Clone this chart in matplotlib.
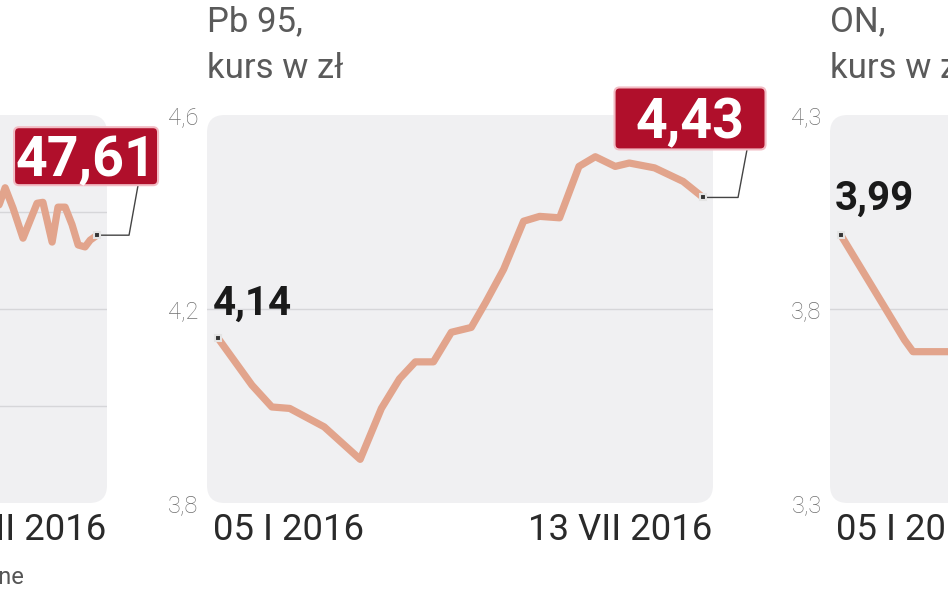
import matplotlib.pyplot as plt
import matplotlib.transforms as mtransforms
from matplotlib.patches import FancyBboxPatch

W, H, DPI = 948, 593, 100

# dni liczone od 05 I 2016 (13 VII 2016 = 190)
oil_days = [150.5, 152.0, 154.0, 157.1, 161.0, 166.5, 168.8, 172.4, 174.7,
            177.5, 180.2, 182.6, 185.3, 187.3, 190]
oil_vals = [50.0, 51.0, 52.5, 50.4, 47.3, 50.9, 51.0, 46.9, 50.5,
            50.5, 48.7, 46.6, 46.4, 47.1, 47.61]

pb95_days = [0, 13.3, 21.1, 28.1, 41.6, 55.7, 64.0, 71.1, 77.3, 84.4, 91.4,
             99.2, 104.9, 111.9, 119.7, 126.0, 133.8, 141.4, 147.8, 155.6,
             161.1, 171.0, 182.2, 190]
pb95_vals = [4.14, 4.043, 3.998, 3.995, 3.957, 3.89, 3.995, 4.056, 4.091,
             4.091, 4.152, 4.162, 4.214, 4.282, 4.381, 4.391, 4.388, 4.494,
             4.514, 4.494, 4.501, 4.491, 4.463, 4.43]

on_days = [0, 24.9, 28.2, 50]
on_vals = [3.99, 3.72, 3.69, 3.69]

date_start = "05 I 2016"
date_end = "13 VII 2016"

LINE = "#e2a48c"
RED = "#b00f2b"
BOX = "#f0f0f2"

plt.rcParams['font.family'] = ['Roboto', 'DejaVu Sans']

fig = plt.figure(figsize=(W / DPI, H / DPI), dpi=DPI)


def px(ref, x, y):
    # przesunięcie w pikselach od punktu (x, y) w układzie ref
    return (mtransforms.Affine2D().scale(1 / DPI) + fig.dpi_scale_trans
            + mtransforms.ScaledTranslation(x, y, ref))


def panel(left, ylim, yticks, grid):
    ax = fig.add_axes([left / W, (H - 503) / H, 506 / W, 388 / H])
    ax.set_xlim(-4.3, 193.9)
    ax.set_ylim(ylim)
    ax.patch.set_visible(False)
    for s in ax.spines.values():
        s.set_visible(False)
    ax.set_xticks([])
    ax.set_yticks(yticks, [f"{t:g}".replace('.', ',') for t in yticks])
    ax.tick_params(axis='y', length=0, pad=6, labelsize=17, labelcolor='#707070')
    for lab in ax.get_yticklabels():
        lab.set_fontweight('light')
    ax.add_patch(FancyBboxPatch((0, 0), 1, 1,
                                boxstyle='round,pad=0,rounding_size=0.035',
                                mutation_aspect=506 / 388, transform=ax.transAxes,
                                fc=BOX, ec='none', zorder=0))
    for g in grid:
        ax.axhline(g, color='#d6d6d9', lw=1, zorder=1)
    # daty pod wykresem
    ax.text(6, -37, date_start, transform=px(ax.transAxes, 0, 0), fontsize=26.3,
            color='#2a2a2a', va='baseline', ha='left')
    ax.text(-1, -37, date_end, transform=px(ax.transAxes, 1, 0), fontsize=26.3,
            color='#2a2a2a', va='baseline', ha='right')
    return ax


def title(ax, l1, l2):
    t = px(ax.transAxes, 0, 1)
    ax.text(0, 84, l1, transform=t, fontsize=25, color='#5a5a5a', va='baseline')
    ax.text(0, 37, l2, transform=t, fontsize=25, color='#5a5a5a', va='baseline')


def line(ax, x, y):
    ax.plot(x, y, color=LINE, lw=5.2, solid_capstyle='round',
            solid_joinstyle='round', zorder=2)


def marker(ax, x, y):
    ax.plot(x, y, 's', ms=5, mfc='#333333', mec='#e4e4e4', mew=1.5, zorder=4,
            clip_on=False)


def red_label(ax, x, y, text, w, h, dx, dy, lx):
    t = px(ax.transData, x, y)
    ax.plot([4, lx, lx + 9], [0, 0, dy - h / 2], transform=t, color='#444444',
            lw=1, zorder=3, clip_on=False)
    ax.add_patch(FancyBboxPatch((dx - w / 2, dy - h / 2), w, h,
                                boxstyle='round,pad=0,rounding_size=5', transform=t,
                                fc=RED, ec='#f2bcc4', lw=1.5, zorder=5, clip_on=False))
    ax.text(dx, dy - 20, text, transform=t, ha='center', va='baseline',
            fontsize=40, fontweight='bold', color='white', zorder=6)


def black_label(ax, x, y, text, dx, dy):
    ax.text(dx, dy - 15, text, transform=px(ax.transData, x, y), ha='left',
            va='baseline', fontsize=29, fontweight='bold', color='#1a1a1a', zorder=6)


# ropa - lewy panel, ucięty
ax1 = panel(-399, (20, 60), [20, 40, 60], [30, 40, 50])
line(ax1, oil_days, oil_vals)
marker(ax1, oil_days[-1], oil_vals[-1])
red_label(ax1, oil_days[-1], oil_vals[-1], "47,61", 144, 58, -11, 79, 32)

# benzyna Pb 95
ax2 = panel(207, (3.8, 4.6), [3.8, 4.2, 4.6], [4.2])
title(ax2, "Pb 95,", "kurs w zł")
line(ax2, pb95_days, pb95_vals)
marker(ax2, pb95_days[0], pb95_vals[0])
marker(ax2, pb95_days[-1], pb95_vals[-1])
black_label(ax2, pb95_days[0], pb95_vals[0], "4,14", -5, 38)
red_label(ax2, pb95_days[-1], pb95_vals[-1], "4,43", 151, 62, -13, 79, 35)

# olej napędowy
ax3 = panel(830, (3.3, 4.3), [3.3, 3.8, 4.3], [3.8])
title(ax3, "ON,", "kurs w zł")
line(ax3, on_days, on_vals)
marker(ax3, on_days[0], on_vals[0])
black_label(ax3, on_days[0], on_vals[0], "3,99", -6, 40)

fig.text(25 / W, (H - 584) / H, "dane", ha='right', va='baseline', fontsize=17,
         color='#555555')

fig.savefig("out.png", dpi=DPI)
